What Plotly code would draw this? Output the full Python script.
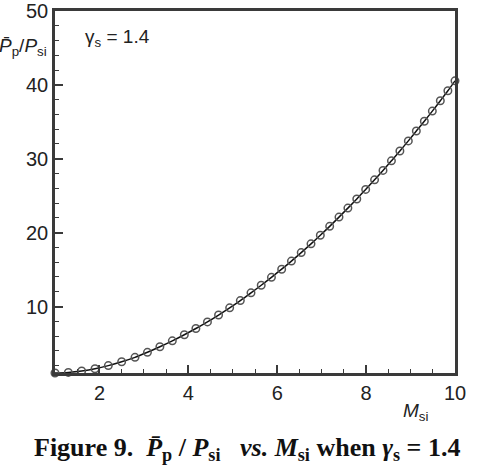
import plotly.graph_objects as go

# Mach number (marker positions)
mach = [1.00, 1.30, 1.60, 1.90, 2.20, 2.50, 2.80, 3.08, 3.36, 3.64,
        3.91, 4.17, 4.43, 4.68, 4.93, 5.17, 5.41, 5.64, 5.87, 6.10,
        6.32, 6.54, 6.76, 6.97, 7.18, 7.39, 7.59, 7.79, 7.99, 8.19,
        8.38, 8.57, 8.76, 8.95, 9.13, 9.31, 9.49, 9.67, 9.84, 10.00]
# Pressure ratio Pp/Psi
pratio = [1.00, 1.08, 1.28, 1.58, 2.00, 2.52, 3.12, 3.80, 4.55, 5.35,
          6.18, 7.02, 7.92, 8.85, 9.82, 10.80, 11.85, 12.88, 13.95, 15.05,
          16.15, 17.30, 18.48, 19.65, 20.85, 22.10, 23.32, 24.55, 25.85, 27.15,
          28.42, 29.72, 31.05, 32.42, 33.75, 35.08, 36.45, 37.85, 39.20, 40.55]

x_ticks = [2, 4, 6, 8, 10]
y_ticks = [10, 20, 30, 40, 50]

fig = go.Figure()
fig.add_trace(go.Scatter(
    x=mach, y=pratio, mode="lines+markers",
    line=dict(color="#111111", width=1.5, shape="spline"),
    marker=dict(symbol="circle-open", size=7.5, color="#555555", line=dict(width=1.5)),
    showlegend=False, cliponaxis=False,
))

frame = "#3a3a3a"
tickfont = dict(family="Liberation Sans, Arial, sans-serif", size=20, color="#222222")
fig.update_xaxes(
    range=[1, 10], tickvals=x_ticks, ticks="inside", ticklen=8, tickwidth=1.5, tickcolor=frame,
    showline=True, linecolor=frame, linewidth=2.5, mirror=True, showgrid=False, zeroline=False,
    tickfont=tickfont,
    minor=dict(dtick=0.5, tick0=0, ticks="inside", ticklen=4, tickcolor=frame, tickwidth=1.2, showgrid=False),
)
fig.update_yaxes(
    range=[1, 50], tickvals=y_ticks, ticks="inside", ticklen=8, tickwidth=1.5, tickcolor=frame,
    showline=True, linecolor=frame, linewidth=2.5, mirror=True, showgrid=False, zeroline=False,
    tickfont=tickfont, automargin=False,
    minor=dict(dtick=2, tick0=0, ticks="inside", ticklen=4, tickcolor=frame, tickwidth=1.2, showgrid=False),
)

sans = "Liberation Sans, Arial, sans-serif"
serif = "Liberation Serif, Times New Roman, serif"
fig.update_layout(
    width=478, height=465,
    margin=dict(l=55, r=23, t=8, b=92),
    paper_bgcolor="white", plot_bgcolor="white",
    annotations=[
        dict(text="γ<sub>s</sub> = 1.4", x=0.07, y=0.925, xref="paper", yref="paper",
             xanchor="left", yanchor="middle", showarrow=False,
             font=dict(family=sans, size=19, color="#222222")),
        dict(text="<i>P̄</i><sub>p</sub>/<i>P</i><sub>si</sub>", x=-0.015, y=0.9, xref="paper", yref="paper",
             xanchor="right", yanchor="middle", showarrow=False,
             font=dict(family=sans, size=19, color="#222222")),
        dict(text="<i>M</i><sub>si</sub>", x=0.9, y=-0.07, xref="paper", yref="paper",
             xanchor="center", yanchor="top", showarrow=False,
             font=dict(family=sans, size=19, color="#222222")),
        dict(text="<b>Figure 9.  <i>P̄</i><sub>p</sub> / <i>P</i><sub>si</sub>   <i>vs.</i> <i>M</i><sub>si</sub> when <i>γ</i><sub>s</sub> = 1.4</b>",
             x=0.48, y=-0.16, xref="paper", yref="paper", xanchor="center", yanchor="top",
             showarrow=False, font=dict(family=serif, size=26, color="#111111")),
    ],
)

fig.write_html("out.html")
